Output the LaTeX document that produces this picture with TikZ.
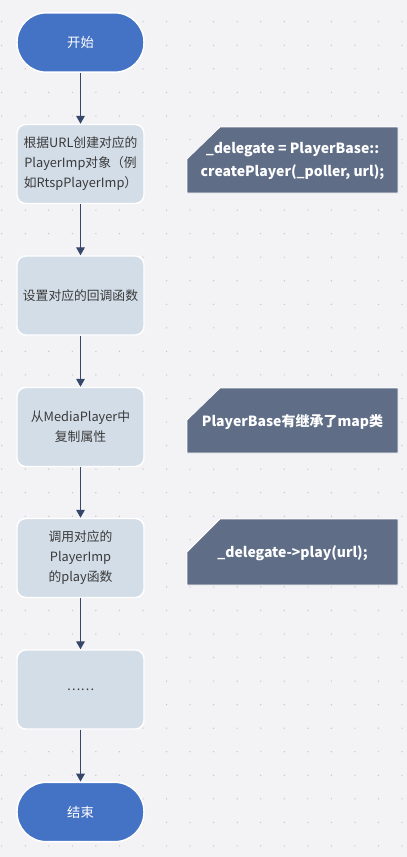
\documentclass[tikz,border=0pt]{standalone}
\usepackage{fontspec}
\setmainfont{Noto Sans CJK SC}
\usetikzlibrary{arrows.meta}
\definecolor{bgc}{HTML}{F3F3F6}
\definecolor{dotc}{HTML}{C4C4CC}
\definecolor{termc}{HTML}{4472C4}
\definecolor{boxc}{HTML}{D3DDE8}
\definecolor{annc}{HTML}{5F6D87}
\definecolor{arrc}{HTML}{36476A}
\definecolor{txtc}{HTML}{3A3A3A}
\tikzset{
  term/.style={draw=white, line width=1.1pt, fill=termc, rounded corners=22pt,
    minimum width=95.25pt, minimum height=44.5pt, text=white, font=\fontsize{10pt}{12pt}\selectfont, inner sep=0pt},
  procbox/.style={draw=white, line width=1.1pt, fill=boxc, rounded corners=6.5pt,
    minimum width=95.25pt, minimum height=59.25pt, text=txtc, align=center,
    font=\fontsize{9.6pt}{15pt}\selectfont, inner sep=0pt},
  annshape/.style={draw=white, line width=0.6pt, fill=annc},
  anntext/.style={text=white, align=center, font=\bfseries\fontsize{10.5pt}{17pt}\selectfont, inner sep=0pt},
  flow/.style={draw=arrc, line width=1pt, -{Triangle[width=6.5pt,length=6pt]}},
}
\begin{document}
\begin{tikzpicture}[x=0.75pt,y=-0.75pt]
\fill[bgc] (0,0) rectangle (407,857);
\useasboundingbox (0,0) rectangle (407,857);
\foreach \i in {0,...,17}{
  \foreach \j in {0,...,35}{
    \fill[dotc] ({1.7+23.55*\i},{21.7+23.55*\j}) circle (0.55pt);
  }
}
% flow nodes
\node[term] (start) at (80.5,42.5) {开始};
\node[procbox] (b1) at (80.5,164) {根据URL创建对应的\\PlayerImp对象（例\\如RtspPlayerImp）};
\node[procbox] (b2) at (80.5,295.5) {设置对应的回调函数};
\node[procbox] (b3) at (80.5,427) {从MediaPlayer中\\复制属性};
\node[procbox] (b4) at (80.5,558) {调用对应的\\PlayerImp\\的play函数};
\node[procbox] (b5) at (80.5,689.5) {……};
\node[term] (end) at (80.5,812) {结束};
\draw[flow] (start) -- (b1);
\draw[flow] (b1) -- (b2);
\draw[flow] (b2) -- (b3);
\draw[flow] (b3) -- (b4);
\draw[flow] (b4) -- (b5);
\draw[flow] (b5) -- (end);
% annotations
\draw[annshape] (187,159) -- (220,127) -- (398,127) -- (398,193) -- (187,193) -- cycle;
\node[anntext] (a1) at (292.5,161) {\_delegate = PlayerBase::\\createPlayer(\_poller, url);};
\draw[annshape] (187,420) -- (220,388) -- (398,388) -- (398,453) -- (187,453) -- cycle;
\node[anntext] (a2) at (292.5,422) {PlayerBase有继承了map类};
\draw[annshape] (187,552) -- (220,519) -- (398,519) -- (398,585) -- (187,585) -- cycle;
\node[anntext] (a3) at (292.5,553) {\_delegate->play(url);};
\end{tikzpicture}
\end{document}
